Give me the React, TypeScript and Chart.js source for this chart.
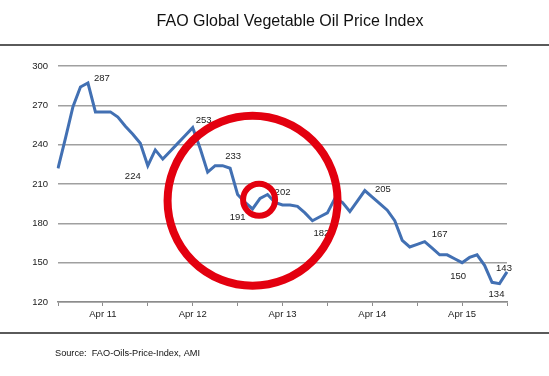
import React, { useEffect, useRef } from "react";
import { Chart, registerables } from "chart.js";

Chart.register(...registerables);

const months = [
  "Oct 10", "Nov 10", "Dec 10",
  "Jan 11", "Feb 11", "Mar 11", "Apr 11", "May 11", "Jun 11", "Jul 11", "Aug 11", "Sep 11", "Oct 11", "Nov 11", "Dec 11",
  "Jan 12", "Feb 12", "Mar 12", "Apr 12", "May 12", "Jun 12", "Jul 12", "Aug 12", "Sep 12", "Oct 12", "Nov 12", "Dec 12",
  "Jan 13", "Feb 13", "Mar 13", "Apr 13", "May 13", "Jun 13", "Jul 13", "Aug 13", "Sep 13", "Oct 13", "Nov 13", "Dec 13",
  "Jan 14", "Feb 14", "Mar 14", "Apr 14", "May 14", "Jun 14", "Jul 14", "Aug 14", "Sep 14", "Oct 14", "Nov 14", "Dec 14",
  "Jan 15", "Feb 15", "Mar 15", "Apr 15", "May 15", "Jun 15", "Jul 15", "Aug 15", "Sep 15", "Oct 15",
];

const priceIndex = [
  222, 245, 269,
  284, 287, 265, 265, 265, 261, 254, 248, 241, 224, 236, 229,
  235, 241, 247, 253, 237, 219, 224, 224, 222, 202, 196, 191,
  199, 202, 196, 194, 194, 193, 188, 182, 185, 188, 199, 196,
  189, 197, 205, 200, 195, 190, 182, 167, 162, 164, 166, 161,
  156, 156, 153, 150, 154, 156, 148, 135, 134, 143,
];

const shownTickLabels = ["Apr 11", "Apr 12", "Apr 13", "Apr 14", "Apr 15"];
const yTicks = [120, 150, 180, 210, 240, 270, 300];

// annotated values: month index and text
const labelMonths = [4, 12, 18, 23, 26, 28, 34, 41, 49, 54, 59, 60];
const labelTexts = ["287", "224", "253", "233", "191", "202", "182", "205", "167", "150", "134", "143"];
const labelOffsets: [number, number][] = [
  [14, -5], [-15, 11], [11, -7], [3, -12], [-15, 8], [15, -2],
  [9, 13], [18, -1], [15, -7], [-4, 14], [-3, 11], [-3, -3],
];

// red rings (centre in data coords: month index, index value)
const ringCentresX = [26.0, 26.87];
const ringCentresY = [197.2, 198];
const ringRadii = [85, 16];
const ringWidths = [8, 6];

const titleText = "FAO Global Vegetable Oil Price Index";
const sourceText = "Source:  FAO-Oils-Price-Index, AMI";

const FONT = '"Liberation Sans", Arial, sans-serif';

export default function App() {
  const ref = useRef<HTMLCanvasElement | null>(null);

  useEffect(() => {
    const canvas = ref.current;
    if (!canvas) return;

    const decor = {
      id: "decor",
      beforeDraw(chart: any) {
        const ctx = chart.ctx;
        ctx.save();
        ctx.fillStyle = "#ffffff";
        ctx.fillRect(0, 0, chart.width, chart.height);
        ctx.fillStyle = "#111111";
        ctx.font = `16px ${FONT}`;
        ctx.textAlign = "center";
        ctx.textBaseline = "alphabetic";
        ctx.fillText(titleText, 290, 26);
        ctx.strokeStyle = "#5a5a5a";
        ctx.lineWidth = 2;
        ctx.beginPath();
        ctx.moveTo(0, 45);
        ctx.lineTo(chart.width, 45);
        ctx.moveTo(0, 333);
        ctx.lineTo(chart.width, 333);
        ctx.stroke();
        ctx.fillStyle = "#111111";
        ctx.font = `9.2px ${FONT}`;
        ctx.textAlign = "left";
        ctx.textBaseline = "middle";
        ctx.fillText(sourceText, 55, 353);
        ctx.restore();
      },
      afterDatasetsDraw(chart: any) {
        const ctx = chart.ctx;
        const xs = chart.scales.x;
        const ys = chart.scales.y;
        ctx.save();
        ctx.fillStyle = "#1a1a1a";
        ctx.font = `9.5px ${FONT}`;
        ctx.textAlign = "center";
        ctx.textBaseline = "middle";
        labelMonths.forEach((m, i) => {
          const px = xs.getPixelForValue(m);
          const py = ys.getPixelForValue(priceIndex[m]);
          ctx.fillText(labelTexts[i], px + labelOffsets[i][0], py + labelOffsets[i][1]);
        });
        ctx.strokeStyle = "#e3000f";
        ringCentresX.forEach((cx, i) => {
          const px = xs.getPixelForValue(cx);
          const py = ys.getPixelForValue(ringCentresY[i]);
          ctx.lineWidth = ringWidths[i];
          ctx.beginPath();
          ctx.arc(px, py, ringRadii[i], 0, Math.PI * 2);
          ctx.stroke();
        });
        ctx.restore();
      },
    };

    const chart = new Chart(canvas, {
      type: "line",
      data: {
        labels: months,
        datasets: [
          {
            data: priceIndex,
            borderColor: "#4270b3",
            borderWidth: 3,
            pointRadius: 0,
            tension: 0,
            fill: false,
          },
        ],
      },
      options: {
        animation: false,
        responsive: false,
        devicePixelRatio: 1,
        layout: { padding: { left: 8, right: 42, top: 66, bottom: 44 } },
        plugins: {
          legend: { display: false },
          title: { display: false },
          tooltip: { enabled: false },
        },
        scales: {
          x: {
            type: "category",
            offset: false,
            afterFit(scale: any) {
              scale.height = 30;
            },
            grid: {
              drawOnChartArea: false,
              drawTicks: true,
              tickLength: 4,
              lineWidth: 1,
              color: (c: any) => (c.index % 6 === 0 ? "#8c8c8c" : "rgba(0,0,0,0)"),
            },
            border: { display: true, color: "#8c8c8c", width: 1.5 },
            ticks: {
              autoSkip: false,
              maxRotation: 0,
              minRotation: 0,
              padding: 3,
              color: "#1a1a1a",
              font: { family: FONT, size: 9.5 },
              callback(this: any, value: any) {
                const lab = this.getLabelForValue(value);
                return shownTickLabels.includes(lab) ? lab : "";
              },
            },
          },
          y: {
            min: yTicks[0],
            max: yTicks[yTicks.length - 1],
            afterFit(scale: any) {
              scale.width = 50;
            },
            afterBuildTicks(scale: any) {
              scale.ticks = yTicks.map((v) => ({ value: v }));
            },
            grid: { color: "#a0a0a0", lineWidth: 1.5, drawTicks: false },
            border: { display: false },
            ticks: {
              padding: 10,
              color: "#1a1a1a",
              font: { family: FONT, size: 9.5 },
            },
          },
        },
      },
      plugins: [decor],
    });

    return () => chart.destroy();
  }, []);

  return (
    <div style={{ position: "absolute", left: 0, top: 0, width: 549, height: 376, background: "#fff" }}>
      <canvas ref={ref} width={549} height={376} style={{ display: "block" }} />
    </div>
  );
}
